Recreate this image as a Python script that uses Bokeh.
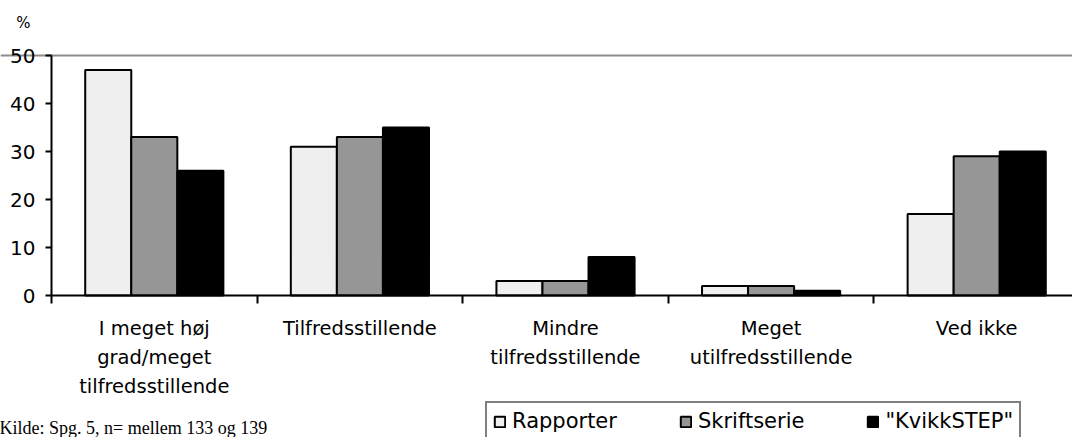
from bokeh.plotting import figure
from bokeh.models import (ColumnDataSource, FixedTicker, Range1d, Label,
                          Legend, LegendItem)
from bokeh.embed import file_html
from bokeh.resources import INLINE

categories = ["I meget høj\ngrad/meget\ntilfredsstillende", "Tilfredsstillende",
              "Mindre\ntilfredsstillende", "Meget\nutilfredsstillende", "Ved ikke"]
series_names = ["Rapporter", "Skriftserie", "\"KvikkSTEP\""]
rapporter = [47, 31, 3, 2, 17]
skriftserie = [33, 33, 3, 2, 29]
kvikkstep = [26, 35, 8, 1, 30]
y_ticks = [0, 10, 20, 30, 40, 50]
colors = ["#efefef", "#969696", "#000000"]
source_note = "Kilde: Spg. 5, n= mellem 133 og 139"

FONT = "DejaVu Sans"

W, H = 1072, 437
# pixel geometry of the plotting area inside the canvas
X0, Y0, YTOP = 51, 295, 55
CAT_PX = 205.6
PX_PER_UNIT = (Y0 - YTOP) / 50.0
x_start = -X0 / CAT_PX
x_end = (W - X0) / CAT_PX
y_end = 50 + YTOP / PX_PER_UNIT
y_start = -(H - Y0) / PX_PER_UNIT

p = figure(width=W, height=H, output_backend="svg", toolbar_location=None,
           x_range=Range1d(x_start, x_end), y_range=Range1d(y_start, y_end),
           min_border_left=0, min_border_right=0, min_border_top=0,
           min_border_bottom=0)
p.outline_line_color = None
p.xgrid.grid_line_color = None

# top grey gridline at 50
p.ygrid.ticker = FixedTicker(ticks=[50])
p.ygrid.bounds = (0, x_end)
p.ygrid.grid_line_color = "#8c8c8c"
p.ygrid.grid_line_width = 2

bw = 0.224
offsets = [-bw, 0, bw]
renderers = []
for vals, off, col in zip([rapporter, skriftserie, kvikkstep], offsets, colors):
    src = ColumnDataSource(dict(x=[i + 0.5 + off for i in range(len(categories))], top=vals))
    r = p.vbar(x="x", top="top", bottom=0, width=bw, source=src,
               fill_color=col, line_color="black", line_width=2)
    renderers.append(r)

# y axis
yax = p.yaxis[0]
yax.fixed_location = 0
yax.bounds = (0, 50)
yax.ticker = FixedTicker(ticks=y_ticks)
yax.axis_line_color = "black"
yax.axis_line_width = 2
yax.major_tick_line_width = 2
yax.major_tick_out = 6
yax.major_tick_in = 0
yax.minor_tick_line_color = None
yax.major_label_text_font = FONT
yax.major_label_text_font_size = "20px"
yax.major_label_text_color = "black"
yax.major_label_standoff = 10

# x axis
centers = [i + 0.5 for i in range(len(categories))]
xax = p.xaxis[0]
xax.fixed_location = 0
xax.bounds = (0, x_end)
xax.ticker = FixedTicker(ticks=centers, minor_ticks=[0, 1, 2, 3, 4, 5])
xax.major_label_overrides = {c: lab for c, lab in zip(centers, categories)}
xax.axis_line_color = "black"
xax.axis_line_width = 2
xax.major_tick_line_color = None
xax.minor_tick_line_color = "black"
xax.minor_tick_line_width = 2
xax.minor_tick_out = 8
xax.minor_tick_in = 0
xax.major_label_text_font = FONT
xax.major_label_text_font_size = "19.5px"
xax.major_label_text_color = "black"
xax.major_label_standoff = 13
xax.major_label_text_line_height = 1.27

# % label
p.add_layout(Label(x=23, y=H - 22, x_units="screen", y_units="screen", text="%",
                   text_font=FONT, text_font_size="15px", text_align="center",
                   text_baseline="middle", text_color="black"))
# source note
p.add_layout(Label(x=-1, y=H - 427, x_units="screen", y_units="screen", text=source_note,
                   text_font="Liberation Serif", text_font_size="18px", text_align="left",
                   text_baseline="alphabetic", text_color="black"))

legend = Legend(items=[LegendItem(label=n, renderers=[r]) for n, r in zip(series_names, renderers)],
                orientation="horizontal", location=(485, H - 441))
legend.label_text_font = FONT
legend.label_text_font_size = "21px"
legend.label_text_color = "black"
legend.border_line_color = "black"
legend.border_line_width = 2
legend.glyph_width = 13
legend.glyph_height = 13
legend.label_standoff = 6
legend.spacing = 62
legend.padding = 6
legend.margin = 0
legend.background_fill_alpha = 1
p.add_layout(legend, "center")

open("out.html", "w").write(file_html(p, INLINE))
